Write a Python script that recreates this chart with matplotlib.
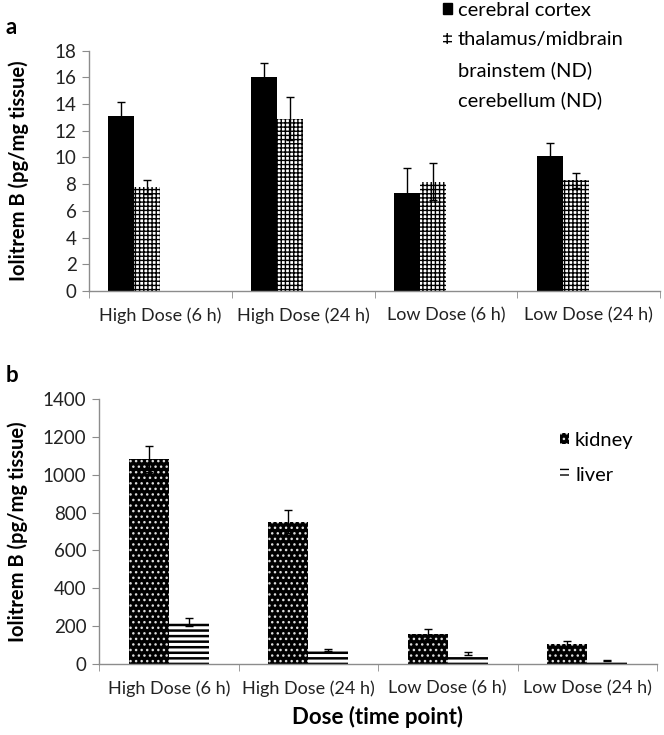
import numpy as np
import matplotlib
matplotlib.use("Agg")
import matplotlib.pyplot as plt
from matplotlib.patches import Patch

plt.rcParams['font.family'] = ['Lato', 'DejaVu Sans']
plt.rcParams['hatch.linewidth'] = 1.0

# data
doses = ["High Dose (6 h)", "High Dose (24 h)", "Low Dose (6 h)", "Low Dose (24 h)"]

brain_regions = ["cerebral cortex", "thalamus/midbrain", "brainstem (ND)", "cerebellum (ND)"]
cortex = [13.1, 16.05, 7.35, 10.1]
cortex_err = [1.05, 1.05, 1.9, 1.0]
thalamus = [7.8, 12.9, 8.2, 8.3]
thalamus_err = [0.5, 1.6, 1.4, 0.55]
brainstem = [0, 0, 0, 0]
cerebellum = [0, 0, 0, 0]

organs = ["kidney", "liver"]
kidney = [1083, 752, 158, 104]
kidney_err = [68, 60, 25, 19]
liver = [222, 74, 53, 18]
liver_err = [20, 5, 8, 4]

W, H = 664, 735
fig = plt.figure(figsize=(W / 100, H / 100), dpi=100)

axa = fig.add_axes([89 / W, 1 - 291 / H, (660 - 89) / W, (291 - 50.7) / H])
axb = fig.add_axes([99 / W, 1 - 664 / H, (657 - 99) / W, (664 - 399) / H])

x = np.arange(len(doses))
grey = '#8c8c8c'


def style_axis(ax, ymax, ystep):
    ax.set_xlim(-0.5, len(doses) - 0.5)
    ax.set_ylim(0, ymax)
    ax.set_yticks(np.arange(0, ymax + 1, ystep))
    for s in ['top', 'right']:
        ax.spines[s].set_visible(False)
    for s in ['left', 'bottom']:
        ax.spines[s].set_color(grey)
        ax.spines[s].set_linewidth(1.0)
    ax.set_xticks(x)
    ax.set_xticklabels(doses)
    ax.set_xticks(np.arange(-0.5, len(doses)), minor=True)
    ax.tick_params(axis='x', which='major', length=0, pad=12, labelsize=13, colors='#222222')
    ax.tick_params(axis='x', which='minor', length=5, color=grey)
    ax.tick_params(axis='y', length=5, color=grey, labelsize=13.5, labelcolor='#222222', pad=4)


# panel a
w = 1 / 5.5
ekw = dict(elinewidth=1.0, capthick=1.0, ecolor='black')
axa.bar(x - 1.5 * w, cortex, w, color='black', yerr=cortex_err, capsize=3, error_kw=ekw)
axa.bar(x - 0.5 * w, thalamus, w, color='white', edgecolor='black', linewidth=0,
        hatch='++++', yerr=thalamus_err, capsize=3, error_kw=ekw)
axa.bar(x + 0.5 * w, brainstem, w, color='white')
axa.bar(x + 1.5 * w, cerebellum, w, color='white')
style_axis(axa, 18, 2)
axa.set_ylabel("Iolitrem B (pg/mg tissue)", fontsize=14.5, fontweight='bold')
axa.yaxis.set_label_coords(-0.105, 0.5)

handles_a = [Patch(facecolor='black', edgecolor='black'),
             Patch(facecolor='white', edgecolor='black', linewidth=0, hatch='+++'),
             Patch(facecolor='none', edgecolor='none'),
             Patch(facecolor='none', edgecolor='none')]
fig.legend(handles_a, brain_regions, loc='upper left', bbox_to_anchor=(443 / W, 1 - 2 / H),
           frameon=False, fontsize=14.5, handlelength=0.45, handleheight=0.45,
           handletextpad=0.3, labelspacing=0.62, borderpad=0, borderaxespad=0)

# panel b
w = 1 / 3.5
axb.bar(x - 0.5 * w, kidney, w, color='black', edgecolor='#dddddd', linewidth=0,
        hatch='...', yerr=kidney_err, capsize=3, error_kw=ekw)
with plt.rc_context({'hatch.linewidth': 1.8}):
    axb.bar(x + 0.5 * w, liver, w, color='white', edgecolor='black', linewidth=0,
            hatch='---', yerr=liver_err, capsize=3, error_kw=ekw)
style_axis(axb, 1400, 200)
axb.set_ylabel("Iolitrem B (pg/mg tissue)", fontsize=14.5, fontweight='bold')
axb.yaxis.set_label_coords(-0.127, 0.5)
axb.set_xlabel("Dose (time point)", fontsize=16, fontweight='bold', labelpad=6)

handles_b = [Patch(facecolor='black', edgecolor='#dddddd', linewidth=0, hatch='...')]
with plt.rc_context({'hatch.linewidth': 1.8}):
    handles_b.append(Patch(facecolor='white', edgecolor='black', linewidth=0, hatch='---'))
fig.legend(handles_b, organs, loc='upper left', bbox_to_anchor=(560 / W, 1 - 432 / H),
           frameon=False, fontsize=14.5, handlelength=0.45, handleheight=0.45,
           handletextpad=0.3, labelspacing=0.87, borderpad=0, borderaxespad=0)

fig.text(6 / W, 1 - 28 / H, "a", fontsize=16, fontweight='bold', va='center')
fig.text(6 / W, 1 - 376 / H, "b", fontsize=16, fontweight='bold', va='center')

fig.savefig("out.png", dpi=100)
